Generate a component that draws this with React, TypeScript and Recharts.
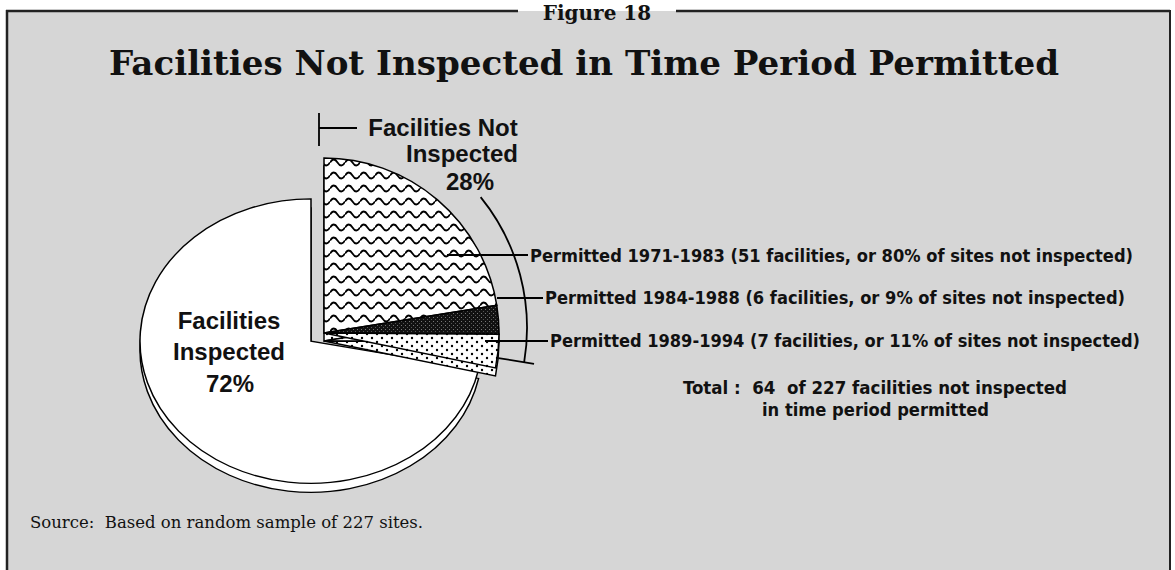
import React from "react";
import { PieChart, Pie, Cell } from "recharts";

// data
const SLICE_NAMES = ["Permitted 1971-1983", "Permitted 1984-1988", "Permitted 1989-1994", "Facilities Inspected"];
const SLICE_COUNTS = [51, 6, 7, 163];
const PERIOD_SHARES = [80, 9, 11]; // % of sites not inspected
const TOTAL_SITES = 227;
const NOT_INSPECTED = 64;
const SHARE_LABELS = ["28%", "72%"];

const W = 1175;
const H = 570;

const pieData = SLICE_NAMES.map((name, i) => ({ name, value: SLICE_COUNTS[i] }));

const SLICE_FILLS = ["url(#wave)", "url(#dark)", "url(#dots)"];

// geometry of the two pieces (the "not inspected" wedge is pulled out)
const OUT = { cx: 319, cy: 328, r: 175 };
const IN = { cx: 306, cy: 337, r: 171, squash: 0.912 };

const rad = (a: number) => (a * Math.PI) / 180;
const pt = (c: { cx: number; cy: number }, r: number, a: number) => ({
  x: c.cx + r * Math.cos(rad(a)),
  y: c.cy - r * Math.sin(rad(a)),
});

const START = 90;
const END = -270;
const wedgeEnd = START - (360 * NOT_INSPECTED) / TOTAL_SITES;

const sans = "'Liberation Sans', Arial, Helvetica, sans-serif";
const narrow = "'Liberation Sans Narrow', 'DejaVu Sans Condensed', 'Liberation Sans', sans-serif";
const serif = "'DejaVu Serif', 'Liberation Serif', serif";

const periodText = [
  `${SLICE_NAMES[0]} (${SLICE_COUNTS[0]} facilities, or ${PERIOD_SHARES[0]}% of sites not inspected)`,
  `${SLICE_NAMES[1]} (${SLICE_COUNTS[1]} facilities, or ${PERIOD_SHARES[1]}% of sites not inspected)`,
  `${SLICE_NAMES[2]} (${SLICE_COUNTS[2]} facilities, or ${PERIOD_SHARES[2]}% of sites not inspected)`,
];
// label layout: x, baseline, width, leader start x, leader y
const periodLayout = [
  { x: 530, y: 262, w: 603, lx: 447, ly: 255 },
  { x: 545, y: 304, w: 580, lx: 497, ly: 298 },
  { x: 550, y: 347, w: 590, lx: 485, ly: 341 },
];

const Annotations = () => {
  const arcFrom = pt(OUT, 208, 39);
  const arcTo = pt(OUT, 208, wedgeEnd + 2);
  const tickA = pt(OUT, 182, wedgeEnd + 2);
  const tickB = pt(OUT, 218, wedgeEnd + 2);
  const topA = pt(OUT, 182, START);
  const topB = pt(OUT, 215, START);
  return (
    <svg width={W} height={H} style={{ position: "absolute", left: 0, top: 0, pointerEvents: "none" }}>
      {/* frame */}
      <line x1={6} y1={11} x2={518} y2={11} stroke="#222" strokeWidth={2.5} />
      <line x1={676} y1={11} x2={1170} y2={11} stroke="#222" strokeWidth={2.5} />
      <line x1={7} y1={10} x2={7} y2={H} stroke="#222" strokeWidth={2.5} />
      <line x1={1170} y1={10} x2={1170} y2={H} stroke="#222" strokeWidth={2} />
      <text x={597} y={20} textAnchor="middle" fontFamily={serif} fontWeight="bold" fontSize={20} fill="#111">
        Figure 18
      </text>
      <text x={584} y={75} textAnchor="middle" fontFamily={serif} fontWeight="bold" fontSize={33} fill="#111"
        textLength={950} lengthAdjust="spacingAndGlyphs">
        Facilities Not Inspected in Time Period Permitted
      </text>

      {/* bracket around the not-inspected wedge */}
      <line x1={topA.x} y1={topA.y} x2={topB.x} y2={topB.y} stroke="#000" strokeWidth={1.8} />
      <line x1={topA.x} y1={128} x2={357} y2={128} stroke="#000" strokeWidth={1.8} />
      <path d={`M${arcFrom.x} ${arcFrom.y} A208 208 0 0 1 ${arcTo.x} ${arcTo.y}`} fill="none" stroke="#000" strokeWidth={1.8} />
      <line x1={tickA.x} y1={tickA.y} x2={tickB.x} y2={tickB.y} stroke="#000" strokeWidth={1.8} />

      <g fontFamily={sans} fontWeight="bold" fontSize={24} fill="#111" textAnchor="middle">
        <text x={443} y={136}>Facilities Not</text>
        <text x={462} y={162}>Inspected</text>
        <text x={470} y={190}>{SHARE_LABELS[0]}</text>
        <text x={229} y={329}>Facilities</text>
        <text x={229} y={360}>Inspected</text>
        <text x={230} y={392}>{SHARE_LABELS[1]}</text>
      </g>

      {periodLayout.map((p, i) => (
        <g key={i}>
          <line x1={p.lx} y1={p.ly} x2={p.x - 2} y2={p.ly} stroke="#000" strokeWidth={2} />
          <text x={p.x} y={p.y} fontFamily={narrow} fontWeight="bold" fontSize={18.5} fill="#111"
            textLength={p.w} lengthAdjust="spacingAndGlyphs">
            {periodText[i]}
          </text>
        </g>
      ))}

      <text x={683} y={394} fontFamily={narrow} fontWeight="bold" fontSize={18.5} fill="#111"
        textLength={384} lengthAdjust="spacingAndGlyphs" style={{ whiteSpace: "pre" }}>
        {`Total :  ${NOT_INSPECTED}  of ${TOTAL_SITES} facilities not inspected`}
      </text>
      <text x={762} y={416} fontFamily={narrow} fontWeight="bold" fontSize={18.5} fill="#111"
        textLength={227} lengthAdjust="spacingAndGlyphs">
        in time period permitted
      </text>

      <text x={30} y={528} fontFamily={serif} fontSize={16.5} fill="#111" style={{ whiteSpace: "pre" }}>
        {`Source:  Based on random sample of ${TOTAL_SITES} sites.`}
      </text>
    </svg>
  );
};

export default function App() {
  return (
    <div style={{ position: "absolute", left: 0, top: 0, width: W, height: H, background: "#fff", overflow: "hidden" }}>
      <style>{`
        .in-pie { transform-origin: ${IN.cx}px ${IN.cy}px; transform: scale(1, ${IN.squash}); }
        .in-pie-depth { transform-origin: ${IN.cx}px ${IN.cy + 9}px; transform: scale(1, ${IN.squash}); }
      `}</style>
      <div style={{ position: "absolute", left: 7, top: 11, width: 1163, height: H - 11, background: "#d6d6d6" }} />
      <div style={{ position: "absolute", left: 0, top: 0 }}>
        <PieChart width={W} height={H}>
          <defs>
            <pattern id="wave" width="15" height="13" patternUnits="userSpaceOnUse">
              <rect width="15" height="13" fill="#fff" />
              <path d="M0 6.5 Q3.75 0.5 7.5 6.5 T15 6.5" fill="none" stroke="#000" strokeWidth="1.8" />
            </pattern>
            <pattern id="dark" width="4" height="4" patternUnits="userSpaceOnUse">
              <rect width="4" height="4" fill="#111" />
              <rect x="1" y="1" width="1" height="1" fill="#777" />
              <rect x="3" y="3" width="1" height="1" fill="#555" />
            </pattern>
            <pattern id="dots" width="10" height="8" patternUnits="userSpaceOnUse">
              <rect width="10" height="8" fill="#fff" />
              <circle cx="2" cy="2" r="1.2" fill="#000" />
              <circle cx="7" cy="6" r="1.2" fill="#000" />
            </pattern>
          </defs>

          {/* 3D edge under the inspected piece */}
          <Pie className="in-pie-depth" data={pieData} dataKey="value" cx={IN.cx} cy={IN.cy + 9} outerRadius={IN.r}
            startAngle={START} endAngle={END} isAnimationActive={false} label={false} labelLine={false}>
            {pieData.map((d, i) => (
              <Cell key={d.name} fill={i === 3 ? "#fff" : "none"} stroke={i === 3 ? "#000" : "none"} strokeWidth={1.5} />
            ))}
          </Pie>
          <Pie className="in-pie" data={pieData} dataKey="value" cx={IN.cx} cy={IN.cy} outerRadius={IN.r}
            startAngle={START} endAngle={END} isAnimationActive={false} label={false} labelLine={false}>
            {pieData.map((d, i) => (
              <Cell key={d.name} fill={i === 3 ? "#fff" : "none"} stroke={i === 3 ? "#000" : "none"} strokeWidth={1.5} />
            ))}
          </Pie>

          {/* pulled-out wedge with its edge */}
          <Pie data={pieData} dataKey="value" cx={OUT.cx} cy={OUT.cy + 8} outerRadius={OUT.r}
            startAngle={START} endAngle={END} isAnimationActive={false} label={false} labelLine={false}>
            {pieData.map((d, i) => (
              <Cell key={d.name} fill={i < 3 ? "url(#dots)" : "none"} stroke={i < 3 ? "#000" : "none"} strokeWidth={1.5} />
            ))}
          </Pie>
          <Pie data={pieData} dataKey="value" cx={OUT.cx} cy={OUT.cy} outerRadius={OUT.r}
            startAngle={START} endAngle={END} isAnimationActive={false} label={false} labelLine={false}>
            {pieData.map((d, i) => (
              <Cell key={d.name} fill={i < 3 ? SLICE_FILLS[i] : "none"} stroke={i < 3 ? "#000" : "none"} strokeWidth={1.5} />
            ))}
          </Pie>
        </PieChart>
      </div>
      <Annotations />
    </div>
  );
}
